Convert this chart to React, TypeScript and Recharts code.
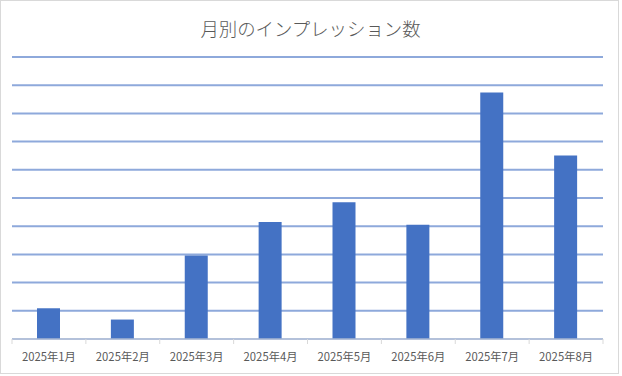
import React from "react";
import { BarChart, Bar, XAxis, YAxis, CartesianGrid } from "recharts";

const categories = ["2025年1月", "2025年2月", "2025年3月", "2025年4月", "2025年5月", "2025年6月", "2025年7月", "2025年8月"];
const impressions = [10.9, 6.9, 29.6, 41.5, 48.5, 40.5, 87.4, 65.1];
const yTicks = [10, 20, 30, 40, 50, 60, 70, 80, 90, 100];
const title = "月別のインプレッション数";

const data = categories.map((c, i) => ({ month: c, value: impressions[i] }));

const FONT = "'Noto Sans CJK JP', 'Noto Sans', sans-serif";

const CustomTick = (props: any) => {
  const { x, y, payload, index, visibleTicksCount } = props;
  const half = payload && payload.offset ? payload.offset : 36.9;
  const last = index === (visibleTicksCount ?? categories.length) - 1;
  return (
    <g>
      <line x1={x - half} x2={x - half} y1={y} y2={y + 5} stroke="#d9d9d9" strokeWidth={1} />
      {last && <line x1={x + half} x2={x + half} y1={y} y2={y + 5} stroke="#d9d9d9" strokeWidth={1} />}
      <text x={x} y={y + 21.5} textAnchor="middle" fill="#595959" fontSize={11.3} fontFamily={FONT}>
        {payload.value}
      </text>
    </g>
  );
};

export default function App() {
  return (
    <div style={{ position: "absolute", left: 0, top: 0, width: 622, height: 376, background: "#fff" }}>
      <div
        style={{
          position: "absolute",
          left: 0,
          top: 0,
          width: 619,
          height: 374,
          boxSizing: "border-box",
          border: "1px solid #d9d9d9",
        }}
      />
      <div
        style={{
          position: "absolute",
          left: 0,
          top: 14,
          width: 621,
          textAlign: "center",
          fontFamily: FONT,
          fontSize: 18.4,
          fontWeight: 300,
          color: "#595959",
          lineHeight: "28px",
        }}
      >
        {title}
      </div>
      <div style={{ position: "absolute", left: 0, top: 0 }}>
        <BarChart
          width={622}
          height={376}
          data={data}
          margin={{ top: 57, right: 19, left: 12, bottom: 7 }}
        >
          <CartesianGrid horizontal={true} vertical={false} stroke="#8EA9DB" strokeWidth={2} />
          <YAxis hide domain={[0, 100]} ticks={yTicks} type="number" />
          <XAxis
            dataKey="month"
            height={30}
            axisLine={{ stroke: "#d9d9d9", strokeWidth: 1 }}
            tickLine={false}
            tickSize={0}
            tickMargin={0}
            interval={0}
            tick={<CustomTick />}
          />
          <Bar dataKey="value" fill="#4472C4" barSize={23} isAnimationActive={false} />
        </BarChart>
      </div>
    </div>
  );
}
